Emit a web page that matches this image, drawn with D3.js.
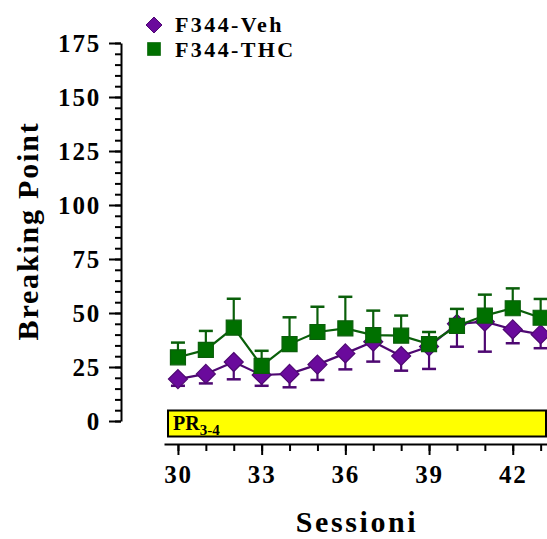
<!DOCTYPE html>
<html>
<head>
<meta charset="utf-8">
<script src="https://cdn.jsdelivr.net/npm/d3@7"></script>
<style>
  html, body { margin: 0; padding: 0; background: #fff; }
  svg { display: block; }
  text { font-family: "Liberation Serif", "Times New Roman", serif; font-weight: bold; fill: #000; }
</style>
</head>
<body>
<svg id="chart" width="547" height="539"></svg>
<script>
// Sessions and breaking-point means (± SEM) for the two groups
const sessions = [30, 31, 32, 33, 34, 35, 36, 37, 38, 39, 40, 41, 42, 43];
const vehMean = [19.4, 21.8, 27.3, 21.3, 21.8, 26.1, 31.3, 36.7, 30.1, 34.5, 45, 46, 42.4, 40.1];
const vehSem  = [3.1, 4.4, 8, 5, 6.2, 7.1, 7.4, 9.2, 6.8, 10.4, 10.6, 13.9, 6.4, 6.4];
const thcMean = [29.5, 32.9, 43.2, 25.5, 35.6, 41.2, 42.9, 39.8, 39.5, 35.6, 44, 48.8, 52.2, 47.8];
const thcSem  = [6.8, 8.8, 13.4, 7, 12.4, 11.7, 14.6, 11.3, 9.3, 5.6, 7.9, 9.7, 9.2, 8.7];
const yTicks = [0, 25, 50, 75, 100, 125, 150, 175];
const xTicks = [30, 33, 36, 39, 42];
const seriesNames = ["F344-Veh", "F344-THC"];
const phaseLabel = { main: "PR", sub: "3-4" };

const svg = d3.select("#chart");

const x = d3.scaleLinear().domain([29.5, 43.5]).range([164, 554.6]);
const y = d3.scaleLinear().domain([0, 175]).range([421, 43]);

const vehColor = "#6a0a9c", vehLine = "#4e0872";
const thcColor = "#007000", thcLine = "#0a5f0a";

// Y axis: major ticks every 25, minor every 5
const yAxisG = svg.append("g").attr("transform", "translate(121,0)");
yAxisG.call(d3.axisLeft(y).tickValues(d3.range(0, 176, 5)).tickSize(6).tickFormat(""))
  .call(g => g.select(".domain").remove());
yAxisG.append("g").call(d3.axisLeft(y).tickValues(yTicks).tickSize(12).tickPadding(6).tickSizeOuter(0))
  .call(g => g.select(".domain").attr("stroke-width", 2))
  .call(g => g.selectAll("text").attr("font-size", 25).attr("letter-spacing", 1.8)
    .attr("dy", "0.33em").attr("dx", "-2"));
yAxisG.selectAll(".tick line").attr("stroke", "#000").attr("stroke-width", 2);

// X axis: minor tick per session, labels every 3 sessions
const xAxisG = svg.append("g").attr("transform", "translate(0,444)");
xAxisG.call(d3.axisBottom(x).tickValues(sessions).tickSize(7).tickFormat(""))
  .call(g => g.select(".domain").remove());
xAxisG.append("g").call(d3.axisBottom(x).tickValues(xTicks).tickSize(11).tickPadding(10).tickSizeOuter(0))
  .call(g => g.select(".domain").attr("stroke-width", 2))
  .call(g => g.selectAll("text").attr("font-size", 25).attr("letter-spacing", 1.8).attr("dy", "0.72em"));
xAxisG.selectAll(".tick line").attr("stroke", "#000").attr("stroke-width", 2);

// Axis titles
svg.append("text")
  .attr("transform", "translate(38,231) rotate(-90)")
  .attr("text-anchor", "middle")
  .attr("font-size", 30).attr("letter-spacing", 1.8)
  .text("Breaking Point");
svg.append("text")
  .attr("x", 357).attr("y", 532)
  .attr("text-anchor", "middle")
  .attr("font-size", 30).attr("letter-spacing", 2.6)
  .text("Sessioni");

// Schedule bar
svg.append("rect")
  .attr("x", 168).attr("y", 410.5).attr("width", 378).attr("height", 26)
  .attr("fill", "#ffff00").attr("stroke", "#000").attr("stroke-width", 2);
const pr = svg.append("text").attr("x", 173).attr("y", 430).attr("font-size", 20);
pr.append("tspan").text(phaseLabel.main);
pr.append("tspan").attr("font-size", 15).attr("dy", 5).text(phaseLabel.sub);

// Series drawing helper: line, one-sided error bars, markers
function drawSeries(means, sems, dir, color, lineColor, shape) {
  const pts = sessions.map((s, i) => ({ s, m: means[i], e: sems[i] }));
  const g = svg.append("g");
  g.selectAll("line.err").data(pts).join("line")
    .attr("x1", d => x(d.s)).attr("x2", d => x(d.s))
    .attr("y1", d => y(d.m)).attr("y2", d => y(d.m + dir * d.e))
    .attr("stroke", lineColor).attr("stroke-width", 2.2);
  g.selectAll("line.cap").data(pts).join("line")
    .attr("x1", d => x(d.s) - 7).attr("x2", d => x(d.s) + 7)
    .attr("y1", d => y(d.m + dir * d.e)).attr("y2", d => y(d.m + dir * d.e))
    .attr("stroke", lineColor).attr("stroke-width", 2.5);
  g.append("path").datum(pts)
    .attr("d", d3.line().x(d => x(d.s)).y(d => y(d.m)))
    .attr("fill", "none").attr("stroke", lineColor).attr("stroke-width", 2.2);
  g.selectAll("path.mk").data(pts).join("path")
    .attr("transform", d => `translate(${x(d.s)},${y(d.m)})`)
    .attr("d", shape)
    .attr("fill", color).attr("stroke", lineColor).attr("stroke-width", 1.2);
}

const diamond = "M0,-9.5L9.5,0L0,9.5L-9.5,0Z";
const square = "M-7.5,-7.5H7.5V7.5H-7.5Z";

drawSeries(vehMean, vehSem, -1, vehColor, vehLine, diamond);
drawSeries(thcMean, thcSem, 1, thcColor, thcLine, square);

// Legend
const legend = svg.append("g");
legend.append("path").attr("transform", "translate(154,25)")
  .attr("d", "M0,-8L8,0L0,8L-8,0Z").attr("fill", vehColor).attr("stroke", vehLine);
legend.append("path").attr("transform", "translate(154,49)")
  .attr("d", "M-6.5,-6.5H6.5V6.5H-6.5Z").attr("fill", thcColor).attr("stroke", "#2f7f2f");
legend.append("text").attr("x", 175).attr("y", 32).attr("font-size", 22).attr("letter-spacing", 2.4).text(seriesNames[0]);
legend.append("text").attr("x", 175).attr("y", 57).attr("font-size", 22).attr("letter-spacing", 2.4).text(seriesNames[1]);
</script>
</body>
</html>
